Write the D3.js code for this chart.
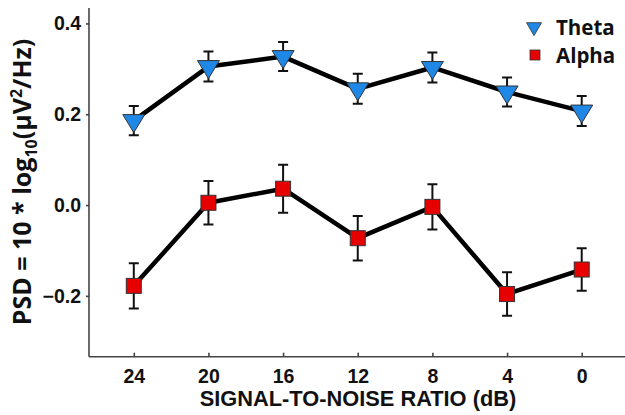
<!DOCTYPE html>
<html>
<head>
<meta charset="utf-8">
<script src="https://cdn.jsdelivr.net/npm/d3@7/dist/d3.min.js"></script>
<style>
  html, body { margin: 0; padding: 0; background: #fff; }
  svg { display: block; }
</style>
</head>
<body>
<svg id="chart" width="625" height="415"></svg>
<script>
// Signal-to-noise ratio conditions (dB), in presentation order
const snrLabels = ["24", "20", "16", "12", "8", "4", "0"];

// Mean PSD values and standard errors per band
const thetaMean = [0.186, 0.305, 0.327, 0.256, 0.303, 0.249, 0.207];
const thetaErr  = [0.032, 0.033, 0.032, 0.033, 0.033, 0.032, 0.033];
const alphaMean = [-0.178, 0.005, 0.036, -0.073, -0.004, -0.196, -0.142];
const alphaErr  = [0.050, 0.048, 0.053, 0.049, 0.050, 0.048, 0.047];

const yTicks = [-0.2, 0.0, 0.2, 0.4];

const svg = d3.select("#chart");

const x = d3.scaleLinear().domain([-0.6, 6.6]).range([89, 626.5]);
const y = d3.scaleLinear().domain([-0.334, 0.434]).range([356.7, 8]);

const axisColor = "#444";
const tickFont = "'Liberation Sans', Arial, sans-serif";

// Y axis
const yAxis = svg.append("g").attr("transform", "translate(89,0)")
  .call(d3.axisLeft(y).tickValues(yTicks).tickFormat(d3.format(".1f")).tickSize(3).tickPadding(5));
yAxis.select(".domain").attr("d", `M0,${y.range()[1]}V${y.range()[0]}`);

// X axis (ticks point inward)
const xAxis = svg.append("g").attr("transform", "translate(0,356.7)")
  .call(d3.axisBottom(x).tickValues(d3.range(snrLabels.length))
    .tickFormat(i => snrLabels[i]).tickSize(-4).tickPadding(10));
xAxis.select(".domain").attr("d", `M${x.range()[0]},0H${x.range()[1]}`);

svg.selectAll(".domain, .tick line").attr("stroke", axisColor).attr("stroke-width", 1.6);
svg.selectAll(".tick text")
  .attr("fill", "#111")
  .style("font-family", tickFont)
  .style("font-weight", "bold")
  .style("font-size", "19.5px");
xAxis.selectAll(".tick text").attr("y", 12).attr("dy", "0.71em");

// Axis titles
svg.append("text")
  .attr("x", 358).attr("y", 406)
  .attr("text-anchor", "middle")
  .style("font-family", tickFont)
  .style("font-weight", "bold")
  .style("font-size", "21.8px")
  .attr("fill", "#111")
  .text("SIGNAL-TO-NOISE RATIO (dB)");

const yTitle = svg.append("text")
  .attr("transform", "translate(31,182) rotate(-90)")
  .attr("text-anchor", "middle")
  .style("font-family", "'Open Sans', sans-serif")
  .style("font-weight", "bold")
  .style("font-size", "25px")
  .attr("fill", "#111");
yTitle.append("tspan").text("PSD = 10 * log");
yTitle.append("tspan").attr("dy", 6).style("font-size", "16px").text("10");
yTitle.append("tspan").attr("dy", -6).text("(μV");
yTitle.append("tspan").attr("dy", -9).style("font-size", "16px").text("2");
yTitle.append("tspan").attr("dy", 9).text("/Hz)");

// Series
const series = [
  { name: "Theta", mean: thetaMean, err: thetaErr, color: "#1f87e6", shape: "tri" },
  { name: "Alpha", mean: alphaMean, err: alphaErr, color: "#e60000", shape: "sq" }
];

const line = d3.line().x((d, i) => x(i)).y(d => y(d));
const triDown = (w, h) => `M${-w / 2},${-h / 3}L${w / 2},${-h / 3}L0,${2 * h / 3}Z`;

series.forEach(s => {
  const g = svg.append("g");
  // error bars
  s.mean.forEach((m, i) => {
    const cx = x(i), y1 = y(m + s.err[i]), y2 = y(m - s.err[i]);
    g.append("path")
      .attr("d", `M${cx},${y1}V${y2}M${cx - 5},${y1}H${cx + 5}M${cx - 5},${y2}H${cx + 5}`)
      .attr("stroke", "#111").attr("stroke-width", 2).attr("fill", "none");
  });
  // connecting line
  g.append("path").datum(s.mean)
    .attr("d", line)
    .attr("fill", "none").attr("stroke", "#000").attr("stroke-width", 4.5)
    .attr("stroke-linejoin", "round");
  // markers
  s.mean.forEach((m, i) => {
    if (s.shape === "tri") {
      g.append("path").attr("d", triDown(22, 18))
        .attr("transform", `translate(${x(i)},${y(m)})`)
        .attr("fill", s.color).attr("stroke", "#333").attr("stroke-width", 1);
    } else {
      g.append("rect").attr("x", x(i) - 7.5).attr("y", y(m) - 7.5)
        .attr("width", 15).attr("height", 15)
        .attr("fill", s.color).attr("stroke", "#333").attr("stroke-width", 1);
    }
  });
});

// Legend
const legend = svg.append("g");
legend.append("path").attr("d", triDown(15, 13))
  .attr("transform", "translate(534,27)")
  .attr("fill", series[0].color).attr("stroke", "#333").attr("stroke-width", 0.8);
legend.append("rect").attr("x", 530).attr("y", 50).attr("width", 10).attr("height", 10)
  .attr("fill", series[1].color).attr("stroke", "#333").attr("stroke-width", 0.8);
legend.selectAll("text.lg").data(series).join("text")
  .attr("class", "lg")
  .attr("x", 556).attr("y", (d, i) => 35 + i * 28)
  .style("font-family", "'Open Sans', sans-serif")
  .style("font-weight", "bold")
  .style("font-size", "20.5px")
  .attr("fill", "#111")
  .text(d => d.name);
</script>
</body>
</html>
